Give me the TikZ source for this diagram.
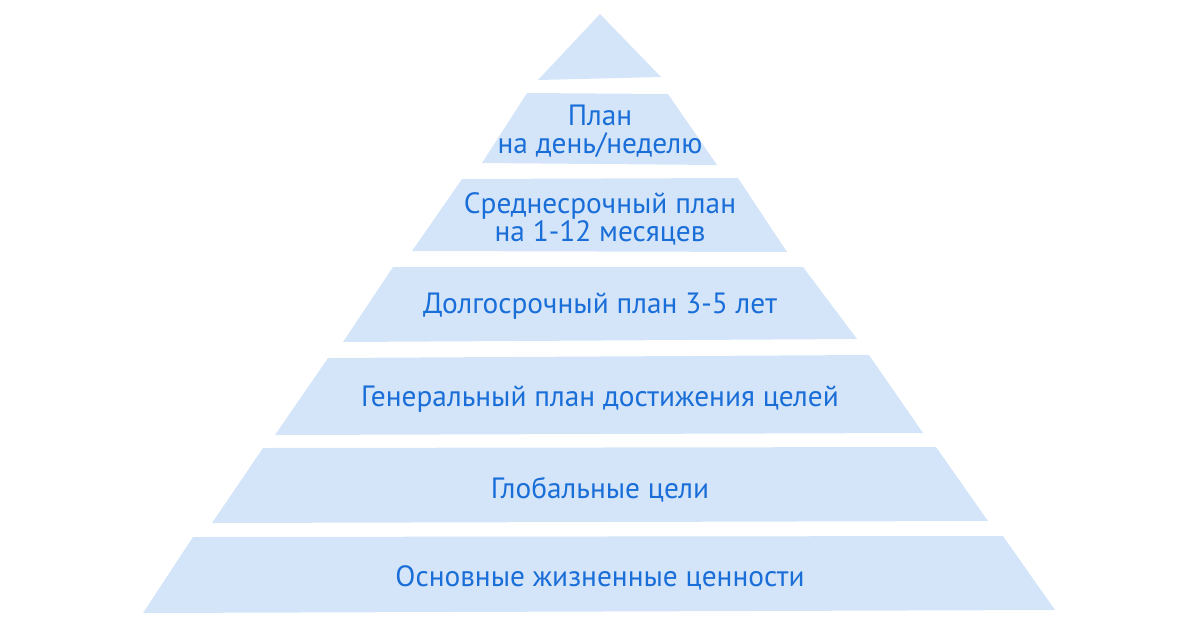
\documentclass[tikz,border=0pt]{standalone}
\usepackage{fontspec}
\setmainfont{PT Sans}
\usepackage{tikz}

\definecolor{layerfill}{HTML}{D4E5F9}
\definecolor{layertext}{HTML}{1A6ED8}

\begin{document}
\begin{tikzpicture}[x=0.75pt, y=-0.75pt,
   layer/.style={fill=layerfill},
   label/.style={text=layertext, font=\fontsize{22}{21}\selectfont, align=center}]
   \useasboundingbox (0, 0) rectangle (1200, 626);

   % Stufen der Pyramide, von oben nach unten
   \fill[layer] (600, 14) -- (661, 77) -- (538, 80) -- cycle;
   \fill[layer] (527, 93) -- (668, 94) -- (717, 165) -- (482, 163) -- cycle;
   \fill[layer] (462, 179) -- (738, 178) -- (787, 252) -- (412, 251) -- cycle;
   \fill[layer] (393, 267) -- (803, 267) -- (857, 339) -- (343, 342) -- cycle;
   \fill[layer] (328, 358) -- (869, 355) -- (923, 433) -- (275, 435) -- cycle;
   \fill[layer] (263, 448) -- (936, 447) -- (988, 521) -- (212, 523) -- cycle;
   \fill[layer] (193, 537) -- (1003, 536) -- (1055, 610) -- (143, 613) -- cycle;

   \node[label] (tag)    at (600, 131) {План\\на день/неделю};
   \node[label] (monate) at (600, 219) {Среднесрочный план\\на 1-12 месяцев};
   \node[label] (jahre)  at (600, 306) {Долгосрочный план 3-5 лет};
   \node[label] (plan)   at (600, 399) {Генеральный план достижения целей};
   \node[label] (ziele)  at (600, 490) {Глобальные цели};
   \node[label] (werte)  at (600, 578) {Основные жизненные ценности};
\end{tikzpicture}
\end{document}
